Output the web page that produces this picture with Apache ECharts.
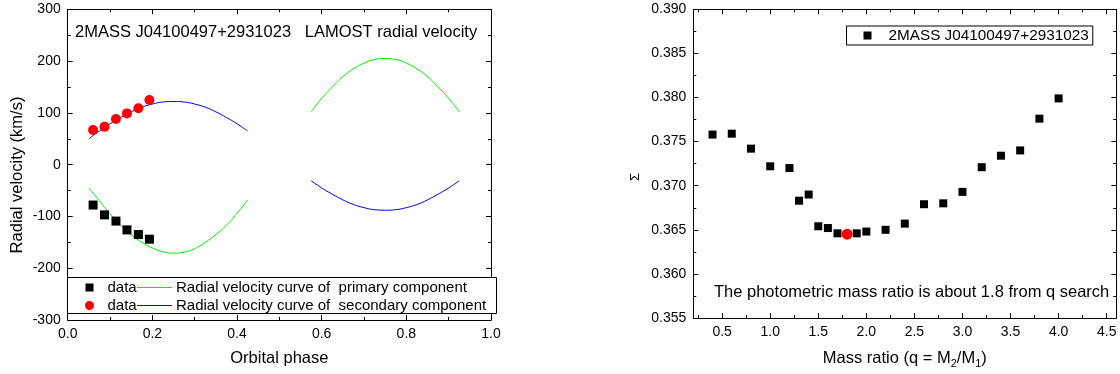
<!DOCTYPE html>
<html><head><meta charset="utf-8">
<script src="https://cdn.jsdelivr.net/npm/echarts@6/dist/echarts.min.js"></script>
<style>html,body{margin:0;padding:0;background:#fff}#c{width:1120px;height:374px}</style>
</head><body><div id="c"></div>
<script>
const FONT = '"Liberation Sans", Arial, sans-serif';

// ---------- Left panel: radial velocities ----------
const obsPhase = [0.060, 0.087, 0.114, 0.140, 0.167, 0.193];
const primaryRV = [-78, -97, -109, -126, -135, -144];
const secondaryRV = [67, 73, 88, 99, 109, 125];

const curvePhaseA = [0.05, 0.075, 0.1, 0.125, 0.15, 0.175, 0.2, 0.225, 0.25, 0.275, 0.3, 0.325, 0.35, 0.375, 0.4, 0.425];
const curvePhaseB = [0.575, 0.6, 0.625, 0.65, 0.675, 0.7, 0.725, 0.75, 0.775, 0.8, 0.825, 0.85, 0.875, 0.9, 0.925];
const primaryCurveA = [-45, -70, -95, -117, -135, -150, -161, -168, -171, -169, -162, -150, -135, -117, -94, -68];
const primaryCurveB = [102, 128, 150, 170, 185, 196, 203, 205, 203, 196, 185, 170, 150, 128, 102];
const secondaryCurveA = [50, 65, 79, 91, 102, 111, 117, 121, 122, 121, 117, 111, 102, 91, 79, 65];
const secondaryCurveB = [-31, -45, -57, -68, -77, -83, -87, -88, -87, -83, -77, -68, -57, -45, -31];

const leftTitle = '2MASS J04100497+2931023   LAMOST radial velocity';
const leftLegendLabels = ['data', 'Radial velocity curve of  primary component', 'data', 'Radial velocity curve of  secondary component'];

// ---------- Right panel: q search ----------
const qValues = [0.4, 0.6, 0.8, 1.0, 1.2, 1.3, 1.4, 1.5, 1.6, 1.7, 1.9, 2.0, 2.2, 2.4, 2.6, 2.8, 3.0, 3.2, 3.4, 3.6, 3.8, 4.0];
const sigmaValues = [0.3758, 0.3759, 0.3742, 0.3722, 0.3720, 0.3683, 0.3690, 0.3654, 0.3652, 0.3646, 0.3646, 0.3648, 0.3650, 0.3657, 0.3679, 0.3680, 0.3693, 0.3721, 0.3734, 0.3740, 0.3776, 0.3799];
const bestQ = [1.8];
const bestSigma = [0.3645];
const qMajorTicks = [0.5, 1.0, 1.5, 2.0, 2.5, 3.0, 3.5, 4.0, 4.5];
const qMinorTicks = [0.25, 0.75, 1.25, 1.75, 2.25, 2.75, 3.25, 3.75, 4.25];
const rightSeriesName = '2MASS J04100497+2931023';
const rightNote = 'The photometric mass ratio is about 1.8 from q search';

const zip = (xs, ys) => xs.map((x, i) => [x, ys[i]]);

const axisLineStyle = { show: true, onZero: false, lineStyle: { color: '#000', width: 1 } };
const tickIn = { show: true, inside: true, length: 5, lineStyle: { color: '#000', width: 1 } };
const minorIn = { show: true, splitNumber: 2, length: 3, lineStyle: { color: '#000', width: 1 } };
const lbl = (fmt, margin) => ({ show: true, color: '#000', fontSize: 14, fontFamily: FONT, margin: margin, formatter: fmt });
const noLbl = { show: false };

const grids = [
  { left: 67.7, top: 9.3, width: 423.3, height: 310.7 },
  { left: 693.3, top: 9.3, width: 423, height: 310.7 }
];

const xAxes = [
  { gridIndex: 0, type: 'value', position: 'bottom', min: 0, max: 1, interval: 0.2,
    axisLine: axisLineStyle, axisTick: tickIn, minorTick: minorIn, splitLine: { show: false },
    axisLabel: lbl(v => v.toFixed(1), 7),
    name: 'Orbital phase', nameLocation: 'middle', nameGap: 30,
    nameTextStyle: { fontSize: 16.5, color: '#000', fontFamily: FONT } },
  { gridIndex: 0, type: 'value', position: 'top', min: 0, max: 1, interval: 0.2,
    axisLine: axisLineStyle, axisTick: tickIn, minorTick: minorIn, splitLine: { show: false }, axisLabel: noLbl },
  { gridIndex: 1, type: 'value', position: 'bottom', min: 0.2, max: 4.6, offset: 0,
    axisLine: axisLineStyle, axisTick: Object.assign({}, tickIn, { customValues: qMajorTicks }), splitLine: { show: false },
    axisLabel: Object.assign(lbl(v => v.toFixed(1), 7), { customValues: qMajorTicks }),
    name: 'Mass ratio (q = M{sub|2}/M{sub|1})', nameLocation: 'middle', nameGap: 30,
    nameTextStyle: { fontSize: 16.5, color: '#000', fontFamily: FONT,
      rich: { sub: { fontSize: 11, color: '#000', fontFamily: FONT, padding: [10, 0, 0, 0] } } } },
  { gridIndex: 1, type: 'value', position: 'bottom', min: 0.2, max: 4.6, offset: 0,
    axisLine: { show: false, onZero: false }, axisTick: { show: true, inside: true, length: 3, customValues: qMinorTicks, lineStyle: { color: '#000' } },
    splitLine: { show: false }, axisLabel: noLbl },
  { gridIndex: 1, type: 'value', position: 'top', min: 0.2, max: 4.6, offset: 0,
    axisLine: axisLineStyle, axisTick: Object.assign({}, tickIn, { customValues: qMajorTicks }), splitLine: { show: false }, axisLabel: noLbl },
  { gridIndex: 1, type: 'value', position: 'top', min: 0.2, max: 4.6, offset: 0,
    axisLine: { show: false, onZero: false }, axisTick: { show: true, inside: true, length: 3, customValues: qMinorTicks, lineStyle: { color: '#000' } },
    splitLine: { show: false }, axisLabel: noLbl }
];

const yAxes = [
  { gridIndex: 0, type: 'value', position: 'left', min: -300, max: 300, interval: 100,
    axisLine: axisLineStyle, axisTick: tickIn, minorTick: minorIn, splitLine: { show: false },
    axisLabel: lbl(v => String(v), 7) },
  { gridIndex: 0, type: 'value', position: 'right', min: -300, max: 300, interval: 100,
    axisLine: axisLineStyle, axisTick: tickIn, minorTick: minorIn, splitLine: { show: false }, axisLabel: noLbl },
  { gridIndex: 1, type: 'value', position: 'left', min: 0.355, max: 0.390, interval: 0.005,
    axisLine: axisLineStyle, axisTick: tickIn, minorTick: minorIn, splitLine: { show: false },
    axisLabel: lbl(v => v.toFixed(3), 7) },
  { gridIndex: 1, type: 'value', position: 'right', min: 0.355, max: 0.390, interval: 0.005,
    axisLine: axisLineStyle, axisTick: tickIn, minorTick: minorIn, splitLine: { show: false }, axisLabel: noLbl }
];

const lineCommon = { type: 'line', xAxisIndex: 0, yAxisIndex: 0, showSymbol: false, smooth: true, silent: true, z: 2 };
const GREEN = '#00ee00', BLUE = '#0000ff', RED = '#ff0000';

const series = [
  Object.assign({}, lineCommon, { name: 'primaryA', data: zip(curvePhaseA, primaryCurveA), lineStyle: { color: GREEN, width: 1 } }),
  Object.assign({}, lineCommon, { name: 'primaryB', data: zip(curvePhaseB, primaryCurveB), lineStyle: { color: GREEN, width: 1 } }),
  Object.assign({}, lineCommon, { name: 'secondaryA', data: zip(curvePhaseA, secondaryCurveA), lineStyle: { color: BLUE, width: 1 } }),
  Object.assign({}, lineCommon, { name: 'secondaryB', data: zip(curvePhaseB, secondaryCurveB), lineStyle: { color: BLUE, width: 1 } }),
  { type: 'scatter', name: 'primary data', xAxisIndex: 0, yAxisIndex: 0, symbol: 'rect', symbolSize: 9,
    itemStyle: { color: '#000', opacity: 1 }, data: zip(obsPhase, primaryRV), z: 3 },
  { type: 'scatter', name: 'secondary data', xAxisIndex: 0, yAxisIndex: 0, symbol: 'circle', symbolSize: 10,
    itemStyle: { color: RED, opacity: 1 }, data: zip(obsPhase, secondaryRV), z: 3 },
  { type: 'scatter', name: rightSeriesName, xAxisIndex: 2, yAxisIndex: 2, symbol: 'rect', symbolSize: 8,
    itemStyle: { color: '#000', opacity: 1 }, data: zip(qValues, sigmaValues), z: 3 },
  { type: 'scatter', name: 'best q', xAxisIndex: 2, yAxisIndex: 2, symbol: 'circle', symbolSize: 11,
    itemStyle: { color: RED, opacity: 1 }, data: zip(bestQ, bestSigma), z: 4 }
];

const txt = (text, size) => ({ text: text, fontSize: size, fontFamily: FONT, fill: '#000' });

const graphic = [
  { type: 'text', x: 75, y: 32, z: 50, style: Object.assign(txt(leftTitle, 16.5), { verticalAlign: 'middle' }) },
  { type: 'text', x: 17, y: 175, rotation: Math.PI / 2, z: 50,
    style: Object.assign(txt('Radial velocity (km/s)', 16.5), { align: 'center', verticalAlign: 'middle' }) },
  { type: 'text', x: 635, y: 177, rotation: Math.PI / 2, z: 50,
    style: Object.assign(txt('Σ', 13), { align: 'center', verticalAlign: 'middle' }) },
  { type: 'text', x: 714, y: 292, z: 50, style: Object.assign(txt(rightNote, 16.5), { verticalAlign: 'middle' }) },
  { type: 'group', z: 100, children: [
    { type: 'rect', z: 100, shape: { x: 67.5, y: 277.5, width: 429, height: 36 }, style: { fill: '#fff', stroke: '#000', lineWidth: 1 } },
    { type: 'rect', z: 101, shape: { x: 85.5, y: 283.5, width: 8, height: 8 }, style: { fill: '#000' } },
    { type: 'text', z: 101, x: 107.5, y: 287.5, style: Object.assign(txt(leftLegendLabels[0], 15), { verticalAlign: 'middle' }) },
    { type: 'line', z: 101, shape: { x1: 137, y1: 287.5, x2: 172, y2: 287.5 }, style: { stroke: GREEN, lineWidth: 1.2, fill: null } },
    { type: 'text', z: 101, x: 176, y: 287.5, style: Object.assign(txt(leftLegendLabels[1], 15), { verticalAlign: 'middle' }) },
    { type: 'circle', z: 101, shape: { cx: 89.5, cy: 305.5, r: 4.5 }, style: { fill: RED } },
    { type: 'text', z: 101, x: 107.5, y: 305.5, style: Object.assign(txt(leftLegendLabels[2], 15), { verticalAlign: 'middle' }) },
    { type: 'line', z: 101, shape: { x1: 137, y1: 305.5, x2: 172, y2: 305.5 }, style: { stroke: BLUE, lineWidth: 1.2, fill: null } },
    { type: 'text', z: 101, x: 176, y: 305.5, style: Object.assign(txt(leftLegendLabels[3], 15), { verticalAlign: 'middle' }) }
  ] }
];

const chart = echarts.init(document.getElementById('c'), null, { renderer: 'canvas' });
chart.setOption({
  animation: false,
  backgroundColor: '#fff',
  grid: grids,
  xAxis: xAxes,
  yAxis: yAxes,
  legend: {
    data: [rightSeriesName], left: 846.5, top: 26, orient: 'horizontal',
    padding: [2, 4, 2, 17], borderColor: '#000', borderWidth: 1, backgroundColor: '#fff',
    itemWidth: 8, itemHeight: 8, icon: 'rect', selectedMode: false,
    textStyle: { fontSize: 15.3, color: '#000', fontFamily: FONT, padding: [0, 0, 0, 12], lineHeight: 15 }
  },
  series: series,
  graphic: graphic
});
</script>
</body></html>
